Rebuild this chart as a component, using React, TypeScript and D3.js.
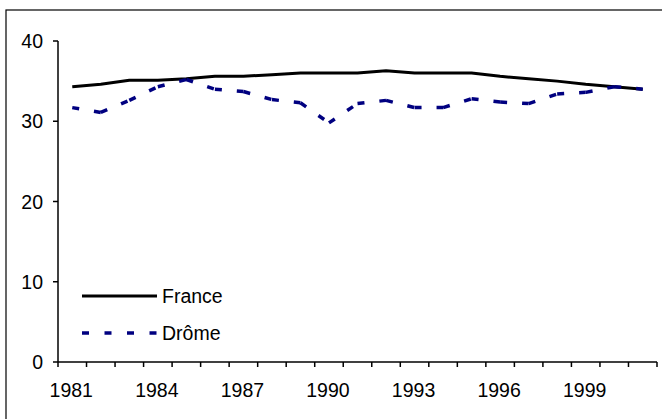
import React from "react";
import * as d3 from "d3";

const years = [1981,1982,1983,1984,1985,1986,1987,1988,1989,1990,1991,1992,1993,1994,1995,1996,1997,1998,1999,2000,2001];
const france = [34.3,34.6,35.1,35.1,35.3,35.6,35.6,35.8,36.0,36.0,36.0,36.3,36.0,36.0,36.0,35.6,35.3,35.0,34.6,34.3,34.0];
const drome = [31.7,31.1,32.6,34.3,35.2,34.0,33.7,32.7,32.3,29.8,32.2,32.6,31.7,31.7,32.8,32.4,32.2,33.4,33.6,34.3,34.0];
const yTicks = [0,10,20,30,40];
const xLabelYears = [1981,1984,1987,1990,1993,1996,1999];

export default function App() {
  const W = 662, H = 419;
  const left = 58, right = 657, top = 41, bottom = 362;
  const x = d3.scaleBand<number>().domain(years).range([left, right]).padding(0);
  const cx = (yr: number) => (x(yr) as number) + x.bandwidth() / 2;
  const y = d3.scaleLinear().domain([0, 40]).range([bottom, top]);
  const line = d3.line<number>().x((_, i) => cx(years[i])).y((d) => y(d));
  const font = "'Liberation Sans', Arial, sans-serif";
  const boundaries = years.map((yr) => x(yr) as number).concat([right]);
  const navy = "#000080";
  return (
    <svg width={W} height={H} style={{ position: "absolute", left: 0, top: 0, background: "#fff" }}>
      <rect x={6} y={10} width={700} height={500} fill="#fff" stroke="#000" strokeWidth={1.2} />
      {/* y axis */}
      <line x1={left} x2={left} y1={top} y2={bottom} stroke="#000" strokeWidth={1.5} />
      {yTicks.map((t) => (
        <g key={t}>
          <line x1={left - 5} x2={left} y1={y(t)} y2={y(t)} stroke="#000" strokeWidth={1.5} />
          <text x={43} y={y(t) + 7} textAnchor="end" fontFamily={font} fontSize={19.5} fill="#000">{t}</text>
        </g>
      ))}
      {/* x axis */}
      <line x1={left} x2={right} y1={bottom} y2={bottom} stroke="#000" strokeWidth={1.5} />
      {boundaries.map((b, i) => (
        <line key={i} x1={b} x2={b} y1={bottom} y2={bottom + 5} stroke="#000" strokeWidth={1.5} />
      ))}
      {xLabelYears.map((yr) => (
        <text key={yr} x={cx(yr) - 1} y={397} textAnchor="middle" fontFamily={font} fontSize={19.5} fill="#000">{yr}</text>
      ))}
      {/* France */}
      <path d={line(france) || ""} fill="none" stroke="#000" strokeWidth={3} strokeLinejoin="round" />
      {/* Drôme: dashes restart on each segment */}
      {drome.slice(1).map((d, i) => (
        <line key={i} x1={cx(years[i])} y1={y(drome[i])} x2={cx(years[i + 1])} y2={y(d)}
          stroke={navy} strokeWidth={3.5} strokeDasharray="7,15" />
      ))}
      {/* legend */}
      <line x1={82} x2={157} y1={296} y2={296} stroke="#000" strokeWidth={3} />
      <text x={162} y={303} fontFamily={font} fontSize={19.5} fill="#000">France</text>
      <line x1={82} x2={157} y1={333} y2={333} stroke={navy} strokeWidth={3.5} strokeDasharray="7,15.5" />
      <text x={162} y={340} fontFamily={font} fontSize={19.5} fill="#000">Drôme</text>
    </svg>
  );
}
